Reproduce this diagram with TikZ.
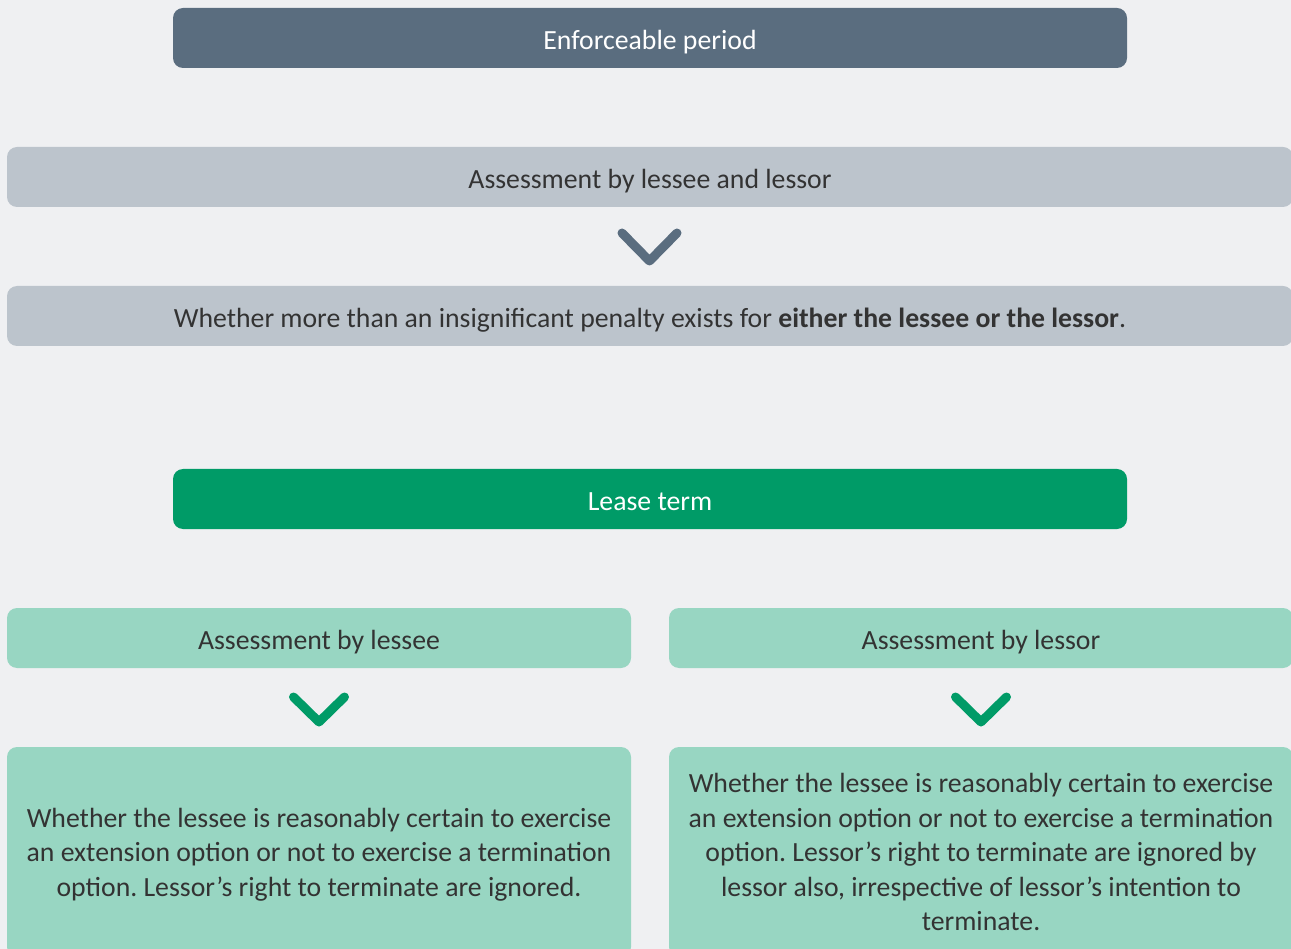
\documentclass[tikz,border=0pt]{standalone}
\usepackage{fontspec}
\setmainfont{Carlito}
\frenchspacing
\definecolor{bgc}{HTML}{EFF0F2}
\definecolor{slate}{HTML}{5A6D7F}
\definecolor{greyfill}{HTML}{BCC4CC}
\definecolor{kgreen}{HTML}{009B67}
\definecolor{lgreen}{HTML}{98D6C2}
\definecolor{txt}{HTML}{333333}
\tikzset{
  box/.style={rectangle, rounded corners=10pt, inner sep=0pt, align=center,
    font=\fontsize{27.75}{34.6}\selectfont, text=txt, text depth=0pt},
  bar/.style={box, minimum height=60pt, text height=23.5pt},
  chev/.style={line width=9pt, line cap=round, line join=round}
}
\begin{document}
\begin{tikzpicture}[x=1pt,y=-1pt]
\useasboundingbox (0,0) rectangle (1291,949);
\clip (0,0) rectangle (1291,949);
\fill[bgc] (0,0) rectangle (1291,949);

\node[bar, fill=slate, text=white, minimum width=954pt] (ep) at (650,38) {Enforceable period};
\node[bar, fill=greyfill, minimum width=1286pt] (abll) at (650,177) {Assessment by lessee and lessor};
\node[bar, fill=greyfill, minimum width=1286pt] (pen) at (650,316) {Whether more than an insignificant penalty exists for \textbf{either the lessee or the lessor}.};
\draw[chev, slate] (622,233) -- (649.5,261) -- (677,233);

\node[bar, fill=kgreen, text=white, minimum width=954pt] (lt) at (650,499) {Lease term};
\node[bar, fill=lgreen, minimum width=624pt] (ale) at (319,638) {Assessment by lessee};
\node[bar, fill=lgreen, minimum width=624pt] (alo) at (981,638) {Assessment by lessor};
\draw[chev, kgreen] (293.5,697) -- (319,722) -- (344.5,697);
\draw[chev, kgreen] (955.5,697) -- (981,722) -- (1006.5,697);

\node[box, fill=lgreen, minimum width=624pt, minimum height=210pt] (lel) at (319,852)
  {Whether the lessee is reasonably certain to exercise\\an extension option or not to exercise a termination\\option. Lessor's right to terminate are ignored.};
\node[box, fill=lgreen, minimum width=624pt, minimum height=210pt] (lol) at (981,852)
  {Whether the lessee is reasonably certain to exercise\\an extension option or not to exercise a termination\\option. Lessor's right to terminate are ignored by\\lessor also, irrespective of lessor's intention to\\terminate.};
\end{tikzpicture}
\end{document}
